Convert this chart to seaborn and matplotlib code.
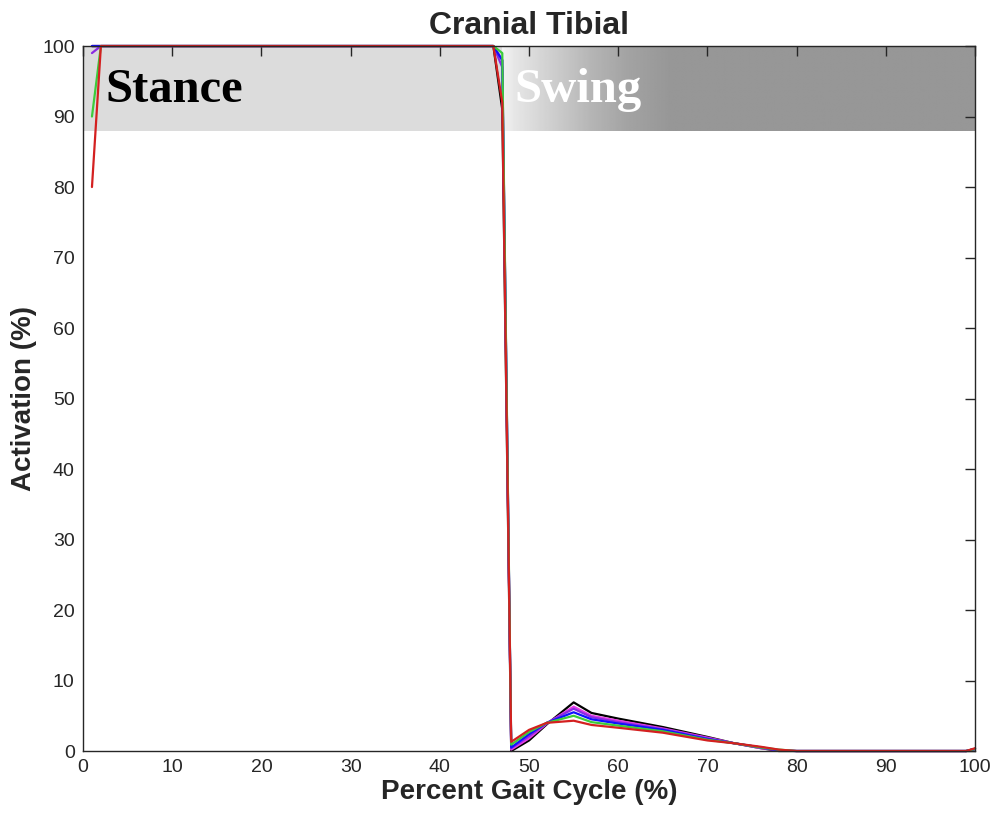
import numpy as np
import pandas as pd
import matplotlib
matplotlib.use("Agg")
import matplotlib.pyplot as plt
import seaborn as sns

# DADOS
pct = [1, 2, 46, 47, 48, 50, 52, 55, 57, 60, 65, 70, 73, 76, 78, 80, 99, 100]

series = {
    "black":   [100, 100, 100, 91, 0.0, 1.5, 3.8, 6.9, 5.4, 4.6, 3.4, 2.0, 1.1, 0.4, 0.0, 0.0, 0.0, 0.3],
    "magenta": [100, 100, 100, 98, 0.2, 1.8, 3.9, 6.3, 5.0, 4.3, 3.2, 1.9, 1.1, 0.4, 0.1, 0.0, 0.0, 0.3],
    "purple":  [99, 100, 100, 97, 0.4, 2.1, 4.0, 6.0, 4.8, 4.1, 3.1, 1.8, 1.1, 0.5, 0.1, 0.0, 0.0, 0.3],
    "blue":    [100, 100, 100, 98, 0.5, 2.4, 4.0, 5.5, 4.5, 3.9, 3.0, 1.7, 1.1, 0.5, 0.1, 0.0, 0.0, 0.3],
    "green":   [90, 100, 100, 99, 0.9, 2.7, 4.0, 5.0, 4.1, 3.6, 2.8, 1.6, 1.1, 0.5, 0.2, 0.0, 0.0, 0.3],
    "red":     [80, 100, 100, 92, 1.3, 3.0, 4.0, 4.3, 3.7, 3.3, 2.6, 1.5, 1.1, 0.6, 0.2, 0.0, 0.0, 0.4],
}
line_colors = ["#000000", "#e63ce6", "#8a2be2", "#1010ff", "#3ccc3c", "#d42020"]

# faixa de fases
band_bottom = 88
stance_end = 47
grad_x = [47, 48.5, 53, 57, 61, 66, 100]
grad_gray = [0.95, 0.90, 0.80, 0.71, 0.64, 0.59, 0.59]

title = "Cranial Tibial"
xlabel = "Percent Gait Cycle (%)"
ylabel = "Activation (%)"

# dataframe longo
rows = []
for name, vals in series.items():
    for x, v in zip(pct, vals):
        rows.append({"pct": x, "act": v, "trial": name})
df = pd.DataFrame(rows)

sns.set_style("white")
plt.rcParams["font.family"] = ["Liberation Sans", "DejaVu Sans"]

fig = plt.figure(figsize=(9.91, 8.19), dpi=100)
ax = fig.add_axes([0.0838, 0.083, 0.9001, 0.8608])

# sombreamento stance / swing
ax.fill_between([0, stance_end], band_bottom, 100, color="#dcdcdc", lw=0, zorder=0)
gx = np.linspace(stance_end, 100, 400)
gv = np.interp(gx, grad_x, grad_gray)
ax.imshow(gv[np.newaxis, :], cmap="gray", vmin=0, vmax=1, aspect="auto",
          extent=[stance_end, 100, band_bottom, 100], zorder=0, interpolation="bilinear")

sns.lineplot(data=df, x="pct", y="act", hue="trial", palette=line_colors,
             estimator=None, sort=False, legend=False, linewidth=1.6, ax=ax)
for ln in ax.get_lines():
    ln.set_clip_on(False)

ax.text(2.5, 92, "Stance", family="Liberation Serif", fontweight="bold",
        fontsize=35, color="black", va="baseline", zorder=3)
ax.text(48.4, 92, "Swing", family="Liberation Serif", fontweight="bold",
        fontsize=35, color="white", va="baseline", zorder=3)

ax.set_xlim(0, 100)
ax.set_ylim(0, 100)
ax.set_xticks(np.arange(0, 101, 10))
ax.set_yticks(np.arange(0, 101, 10))
ax.tick_params(direction="in", length=7, width=1, labelsize=14, colors="#262626",
               top=True, right=True, pad=6)
for sp in ax.spines.values():
    sp.set_color("#262626")
    sp.set_linewidth(1)
    sp.set_zorder(4)

ax.set_title(title, fontsize=23, fontweight="bold", pad=9)
ax.set_xlabel(xlabel, fontsize=20, fontweight="bold", color="#262626", labelpad=2)
ax.set_ylabel(ylabel, fontsize=20, fontweight="bold", color="#262626", labelpad=4)

fig.savefig("out.png", dpi=100)
